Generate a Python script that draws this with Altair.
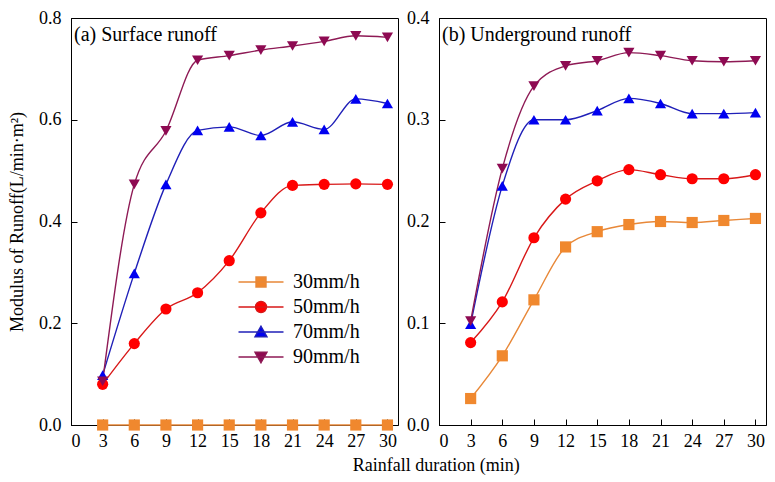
import altair as alt
import pandas as pd

durations = [3, 6, 9, 12, 15, 18, 21, 24, 27, 30]
series_names = ["30mm/h", "50mm/h", "70mm/h", "90mm/h"]
marker_colors = ["#F0882E", "#FF0000", "#0000F0", "#8E0A52"]
line_colors = ["#E88838", "#D81818", "#2020B8", "#8E1A55"]
marker_shapes = ["square", "circle", "triangle-up", "triangle-down"]
legend_paths = [
    "M-4.5,0H4.5M-1,-1H1V1H-1Z",
    "M-4.5,0H4.5M1.1,0A1.1,1.1,0,1,1,-1.1,0A1.1,1.1,0,1,1,1.1,0Z",
    "M-4.5,0H4.5M0,-1.15L1.2,0.95H-1.2Z",
    "M-4.5,0H4.5M0,1.15L1.2,-0.95H-1.2Z",
]
panel_titles = ["(a) Surface runoff", "(b) Underground runoff"]
x_ticks = [0, 3, 6, 9, 12, 15, 18, 21, 24, 27, 30]
y_ticks_a = [0.0, 0.2, 0.4, 0.6, 0.8]
y_ticks_b = [0.0, 0.1, 0.2, 0.3, 0.4]

surface_30 = [0.0, 0.0, 0.0, 0.0, 0.0, 0.0, 0.0, 0.0, 0.0, 0.0]
surface_50 = [0.080, 0.160, 0.228, 0.260, 0.323, 0.417, 0.471, 0.473, 0.474, 0.473]
surface_70 = [0.098, 0.298, 0.473, 0.579, 0.586, 0.569, 0.596, 0.581, 0.641, 0.632]
surface_90 = [0.086, 0.473, 0.578, 0.717, 0.726, 0.737, 0.745, 0.754, 0.765, 0.762]

under_30 = [0.026, 0.068, 0.123, 0.175, 0.190, 0.197, 0.200, 0.199, 0.201, 0.203]
under_50 = [0.081, 0.121, 0.184, 0.222, 0.240, 0.251, 0.246, 0.242, 0.242, 0.246]
under_70 = [0.099, 0.235, 0.300, 0.300, 0.309, 0.321, 0.316, 0.306, 0.306, 0.307]
under_90 = [0.102, 0.252, 0.333, 0.353, 0.358, 0.366, 0.363, 0.358, 0.357, 0.358]

FONT = "Liberation Serif"
W, H = 327, 407


def make_df(cols):
    rows = []
    for name, vals in zip(series_names, cols):
        for d, v in zip(durations, vals):
            rows.append({"duration": d, "series": name, "value": v})
    return pd.DataFrame(rows)


df_a = make_df([surface_30, surface_50, surface_70, surface_90])
df_b = make_df([under_30, under_50, under_70, under_90])


def panel(df, ymax, yticks, title_text, ytitle, with_legend):
    base = alt.Chart(df)
    x = alt.X("duration:Q", scale=alt.Scale(domain=[0, 31], nice=False, zero=False),
              axis=alt.Axis(values=x_ticks, title=None, labelPadding=13))
    if ytitle is None:
        y_axis = alt.Axis(values=yticks, format=".1f", labelPadding=16, title=None)
    else:
        y_axis = alt.Axis(values=yticks, format=".1f", labelPadding=16, titlePadding=12, title=ytitle)
    y = alt.Y("value:Q", scale=alt.Scale(domain=[0, ymax], nice=False), axis=y_axis)
    lines = base.mark_line(interpolate="monotone", strokeWidth=1.4).encode(
        x=x, y=y,
        color=alt.Color("series:N", scale=alt.Scale(domain=series_names, range=line_colors), legend=None))
    layers = [lines]
    for name, col, shp in zip(series_names, marker_colors, marker_shapes):
        pts = base.transform_filter(alt.datum.series == name).mark_point(
            filled=True, size=125, shape=shp, color=col, opacity=1).encode(x=x, y=y)
        layers.append(pts)
    if with_legend:
        leg = alt.Legend(title="\u00a0", titleOrient="bottom", titleFontSize=2, titlePadding=18,
                         orient="bottom-right", offset=38, symbolSize=100, symbolStrokeWidth=1.4,
                         symbolOpacity=1, labelFont=FONT, labelFontSize=20, labelColor="black",
                         labelOffset=22, rowPadding=5, padding=0, labelLimit=300)
        hidden = base.transform_filter(alt.datum.value < -1).mark_point(filled=True, size=100).encode(
            x=x, y=y,
            shape=alt.Shape("series:N", scale=alt.Scale(domain=series_names, range=legend_paths), legend=leg),
            fill=alt.Fill("series:N", scale=alt.Scale(domain=series_names, range=marker_colors), legend=leg),
            stroke=alt.Stroke("series:N", scale=alt.Scale(domain=series_names, range=line_colors), legend=leg),
        )
        layers.append(hidden)
    label = alt.Chart(pd.DataFrame({"t": [title_text]})).mark_text(
        align="left", baseline="top", font=FONT, fontSize=20, color="black"
    ).encode(x=alt.value(3), y=alt.value(7), text="t:N")
    layers.append(label)
    return alt.layer(*layers).properties(width=W, height=H)


left = panel(df_a, 0.8, y_ticks_a, panel_titles[0], "Modulus of  Runoff(L/min\u00b7m\u00b2)", True)
right = panel(df_b, 0.4, y_ticks_b, panel_titles[1], None, False)

chart = alt.hconcat(left, right, spacing=7).resolve_scale(
    fill="independent", stroke="independent", shape="independent"
).properties(
    padding={"left": 0, "top": 0, "right": 0, "bottom": 0},
    title=alt.TitleParams("Rainfall duration (min)", orient="bottom", anchor="middle", font=FONT,
                          fontSize=18, fontWeight="normal", color="black", dx=49, offset=6),
).configure_axis(
    domainColor="black", tickColor="black", labelColor="black", titleColor="black",
    labelFont=FONT, titleFont=FONT, labelFontSize=18, titleFontSize=18, titleFontWeight="normal",
    grid=False, tickSize={"expr": "-6"}, domainWidth=1, tickWidth=1,
).configure_view(stroke="black", strokeWidth=1)

chart.save("out.html", embed_options={"renderer": "svg", "actions": False})
